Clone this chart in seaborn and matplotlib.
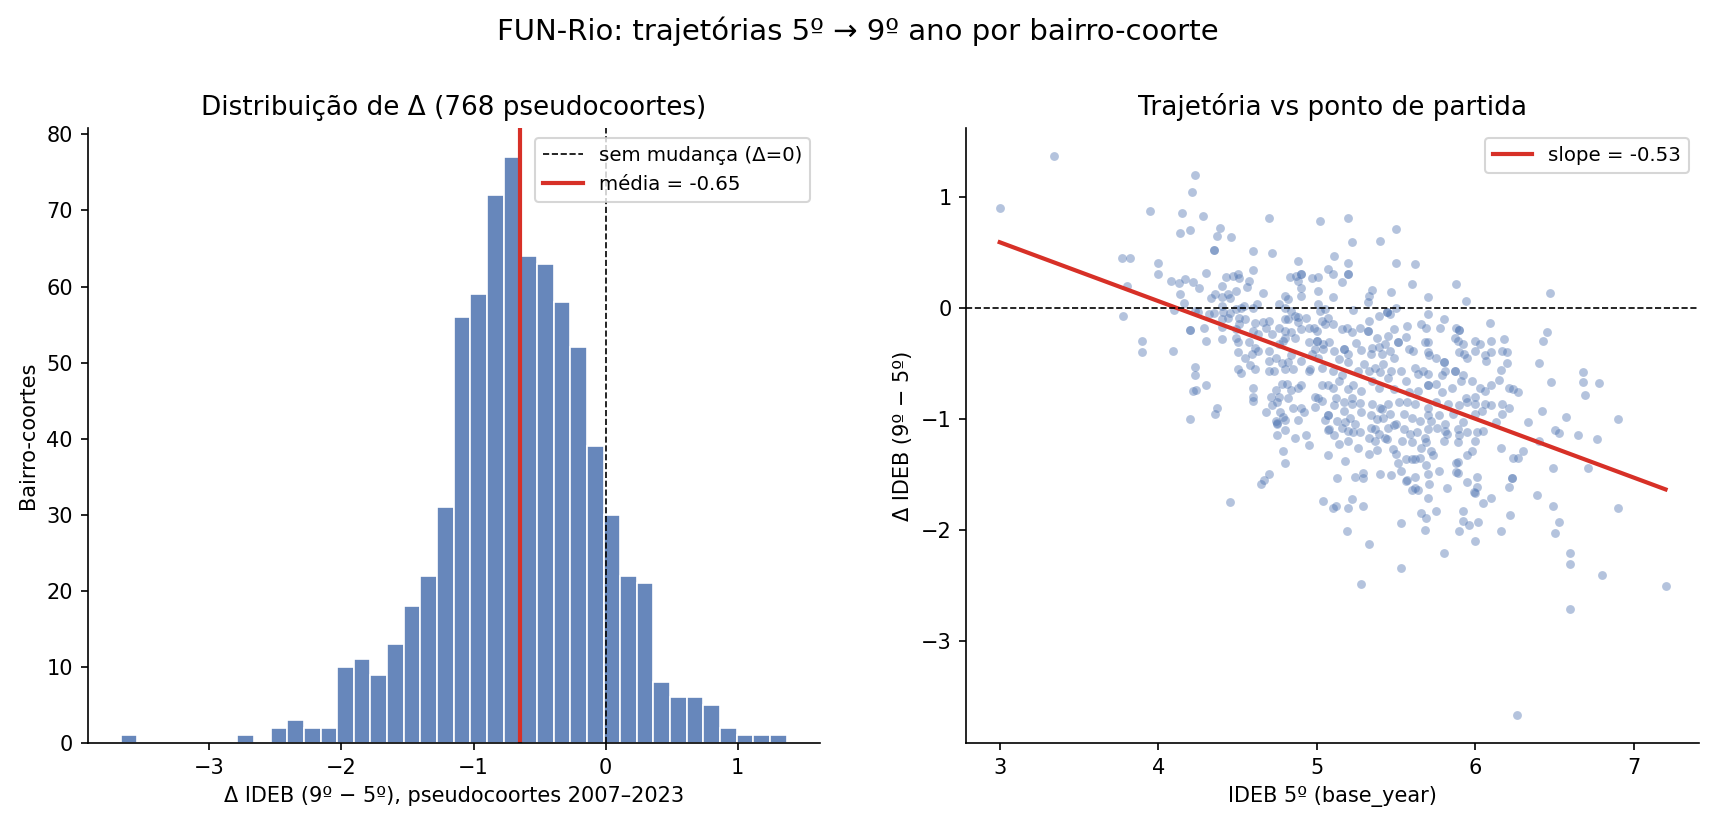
import numpy as np
import pandas as pd
import matplotlib
matplotlib.use("Agg")
import matplotlib.pyplot as plt
import seaborn as sns

BLUE = "#4C72B0"
RED = "#d73027"

# Histogram of delta: 40 equal bins between hist_lo and hist_hi
hist_lo, hist_hi = -3.67, 1.37
hist_counts = [1, 0, 0, 0, 0, 0, 0, 1, 0, 2,
               3, 2, 2, 10, 11, 9, 13, 18, 22, 31,
               56, 59, 72, 77, 64, 63, 58, 52, 39, 30,
               22, 21, 8, 6, 6, 5, 2, 1, 1, 1]
delta_mean = -0.65

# regression line
slope, intercept = -0.53, 2.18

# scatter points (IDEB 5º, delta), read region by region
pts_low_x = [
    (3.00, 0.90), (3.34, 1.37), (3.77, 0.45), (3.82, 0.45), (3.80, 0.20), (3.78, -0.07),
    (4.23, 1.20), (4.21, 1.04), (3.95, 0.87), (4.15, 0.85), (4.28, 0.83), (4.70, 0.81),
    (5.02, 0.78), (4.39, 0.72), (4.20, 0.70), (4.14, 0.67), (4.37, 0.65), (4.46, 0.64),
    (4.35, 0.52), (4.35, 0.52), (4.60, 0.51), (4.72, 0.49), (4.00, 0.40), (4.88, 0.42),
    (4.00, 0.30), (4.60, 0.34), (4.30, 0.31), (4.08, 0.24), (4.13, 0.22), (4.17, 0.26),
    (4.22, 0.23), (4.26, 0.18), (4.40, 0.20), (4.43, 0.28), (4.47, 0.29), (4.50, 0.30),
    (4.51, 0.27), (4.57, 0.24), (4.56, 0.19), (4.83, 0.28), (4.87, 0.29), (4.90, 0.30),
    (4.90, 0.30), (4.88, 0.24), (4.90, 0.18), (4.90, 0.11), (4.97, 0.27), (5.01, 0.28),
    (5.01, 0.15), (4.66, 0.13), (4.14, 0.12), (4.16, 0.04), (4.33, 0.09), (4.36, 0.12),
    (4.40, 0.10), (4.44, 0.12), (4.45, 0.09), (4.49, 0.15), (4.80, 0.11), (4.82, 0.08),
    (4.10, -0.02), (4.23, -0.03), (4.25, -0.04), (4.32, -0.06), (4.35, -0.05), (4.40, 0.02),
    (4.41, -0.04), (4.45, -0.05), (4.49, -0.01), (4.52, 0.00), (4.54, 0.02), (4.62, 0.03),
    (4.60, 0.00), (4.76, 0.03), (4.80, 0.00), (4.84, -0.03), (4.86, -0.07), (4.88, -0.08),
    (4.93, -0.09), (5.01, 0.03), (5.02, -0.03), (5.05, -0.01),
    (4.40, -0.10), (4.44, -0.09), (4.51, -0.09), (4.55, -0.10), (4.51, -0.15), (4.61, -0.14),
    (4.66, -0.13), (4.70, -0.12), (4.68, -0.18), (4.76, -0.18), (4.80, -0.10), (4.82, -0.10),
    (4.88, -0.13), (4.90, -0.19), (4.95, -0.18), (4.98, -0.18), (5.00, -0.21), (5.03, -0.12),
    (5.05, -0.15), (4.20, -0.20), (4.20, -0.20), (4.29, -0.18), (4.40, -0.17), (4.49, -0.19),
    (4.60, -0.21), (4.63, -0.24), (4.72, -0.24), (4.80, -0.21), (4.84, -0.22), (4.86, -0.27),
    (3.90, -0.30), (4.30, -0.30), (4.40, -0.28), (4.49, -0.27), (4.50, -0.31), (4.57, -0.31),
    (4.61, -0.36), (4.63, -0.39), (4.70, -0.39), (4.76, -0.33), (4.79, -0.30), (4.80, -0.27),
    (4.95, -0.31), (4.99, -0.37), (5.00, -0.30), (5.00, -0.30), (5.04, -0.33), (5.04, -0.37),
    (3.90, -0.40), (4.09, -0.39), (4.50, -0.40), (4.55, -0.45), (4.59, -0.42), (4.70, -0.48),
    (4.74, -0.45), (4.78, -0.50), (4.82, -0.49), (4.84, -0.43), (4.90, -0.48), (4.96, -0.55),
    (4.97, -0.42), (5.01, -0.45), (5.03, -0.54), (4.23, -0.53), (4.50, -0.55), (4.52, -0.59),
    (4.58, -0.52), (4.61, -0.55), (4.70, -0.57), (4.73, -0.57), (4.80, -0.55), (4.85, -0.55),
    (4.95, -0.57), (4.23, -0.61), (4.30, -0.70), (4.24, -0.74), (4.22, -0.75), (4.60, -0.72),
    (4.60, -0.80), (4.74, -0.74), (4.78, -0.69), (4.81, -0.69), (4.84, -0.74), (4.88, -0.72),
    (4.90, -0.70), (4.71, -0.80), (4.76, -0.80), (4.82, -0.81), (4.99, -0.80), (5.01, -0.81),
    (5.03, -0.70), (5.07, -0.70),
    (4.20, -1.00), (4.36, -0.96), (4.37, -0.90), (4.60, -0.84), (4.68, -0.94), (4.72, -0.88),
    (4.75, -0.85), (4.77, -0.94), (4.79, -0.98), (4.80, -1.01), (4.74, -1.02), (4.75, -1.05),
    (4.75, -1.04), (4.80, -1.10), (4.75, -1.15), (4.85, -0.90), (4.90, -0.90), (4.92, -0.94),
    (4.88, -1.01), (4.86, -1.17), (4.93, -1.15), (4.95, -1.24), (4.99, -0.89), (5.03, -0.84),
    (5.05, -1.01), (5.07, -0.97), (5.07, -1.10), (5.07, -1.33), (4.79, -1.29), (4.80, -1.40),
    (4.70, -1.50), (4.67, -1.55), (4.65, -1.59), (4.45, -1.75), (5.04, -1.74),
]

pts_mid_upper = [
    (5.20, 0.81), (5.50, 0.71), (5.22, 0.59), (5.40, 0.60), (5.11, 0.47), (5.20, 0.40),
    (5.50, 0.40), (5.62, 0.39), (5.07, 0.35), (5.10, 0.30), (5.20, 0.30), (5.20, 0.30),
    (5.16, 0.23), (5.60, 0.21), (5.88, 0.21), (5.35, 0.16), (5.33, 0.11), (5.47, 0.14),
    (5.10, 0.10), (5.70, 0.10), (5.94, 0.06), (5.32, 0.05), (5.23, -0.02), (5.50, 0.00),
    (5.44, -0.04), (5.44, -0.04), (5.46, -0.06), (5.39, -0.07), (5.70, -0.06), (5.80, -0.10),
    (5.33, -0.12), (5.10, -0.15), (5.07, -0.09), (5.16, -0.19), (5.19, -0.18), (5.27, -0.18),
    (5.32, -0.21), (5.32, -0.21), (5.22, -0.22), (5.57, -0.16), (5.66, -0.15), (5.69, -0.18),
    (5.78, -0.18), (5.88, -0.18), (5.90, -0.20), (5.90, -0.20), (6.09, -0.14), (6.18, -0.28),
    (6.10, -0.30), (6.00, -0.30), (6.03, -0.33), (5.87, -0.27), (5.92, -0.33), (5.89, -0.30),
    (5.49, -0.19), (5.45, -0.25), (5.38, -0.27), (5.56, -0.26), (5.51, -0.31), (5.51, -0.31),
    (5.68, -0.31), (5.70, -0.31), (5.58, -0.37), (5.25, -0.32), (5.11, -0.39), (5.17, -0.37),
    (5.17, -0.37), (5.20, -0.42), (5.28, -0.38), (5.35, -0.36), (5.39, -0.35), (5.43, -0.33),
    (5.34, -0.42), (5.41, -0.42), (5.46, -0.39), (5.49, -0.45), (5.61, -0.39), (5.70, -0.40),
    (5.71, -0.43), (5.75, -0.45), (5.80, -0.49), (5.80, -0.49), (5.90, -0.40), (5.93, -0.42),
    (5.95, -0.45), (6.00, -0.39), (6.06, -0.43), (6.07, -0.48), (6.10, -0.40), (6.17, -0.39),
    (6.20, -0.40), (6.20, -0.50), (6.16, -0.56), (5.08, -0.31), (5.14, -0.46), (5.20, -0.49),
    (5.10, -0.57), (5.16, -0.61), (5.14, -0.66), (5.10, -0.72), (5.20, -0.73), (5.26, -0.57),
    (5.30, -0.51), (5.33, -0.57), (5.37, -0.54), (5.40, -0.58), (5.45, -0.63), (5.42, -0.51),
    (5.47, -0.57), (5.53, -0.57), (5.56, -0.66), (5.62, -0.54), (5.64, -0.60), (5.67, -0.57),
    (5.70, -0.60), (5.70, -0.70), (5.70, -0.70), (5.75, -0.69), (5.79, -0.61), (5.81, -0.57),
    (5.87, -0.57), (5.87, -0.57), (5.92, -0.61), (5.91, -0.66), (5.85, -0.72), (5.98, -0.66),
    (6.03, -0.72), (6.06, -0.75), (6.10, -0.70), (6.15, -0.65), (6.21, -0.72), (6.24, -0.73),
    (5.23, -0.70), (5.35, -0.66), (5.28, -0.75), (5.39, -0.72), (5.49, -0.73), (5.58, -0.76),
    (5.64, -0.75), (5.79, -0.76), (5.94, -0.81), (6.00, -0.80), (5.12, -0.81), (5.22, -0.81),
]

pts_mid_lower = [
    (5.11, -0.88), (5.17, -0.85), (5.22, -0.87), (5.27, -0.86), (5.35, -0.87), (5.40, -0.90),
    (5.45, -0.87), (5.52, -0.85), (5.57, -0.85), (5.62, -0.87), (5.70, -0.90), (5.75, -0.85),
    (5.83, -0.87), (5.90, -0.88), (5.95, -0.85), (6.00, -0.87), (6.06, -0.87), (6.10, -0.88),
    (6.17, -0.87), (6.21, -0.90),
    (5.07, -0.97), (5.13, -1.02), (5.17, -0.93), (5.18, -1.03), (5.21, -0.99), (5.24, -1.05),
    (5.28, -0.94), (5.34, -0.97), (5.38, -1.00), (5.41, -0.91), (5.42, -0.99), (5.46, -0.96),
    (5.50, -1.05), (5.55, -0.96), (5.60, -0.99), (5.65, -1.02), (5.70, -0.97), (5.72, -1.02),
    (5.77, -0.97), (5.81, -1.05), (5.86, -0.96), (5.92, -1.03), (6.00, -0.96), (6.04, -0.93),
    (6.13, -1.03), (6.17, -0.96),
    (5.08, -1.09), (5.11, -1.15), (5.16, -1.08), (5.20, -1.11), (5.23, -1.12), (5.27, -1.12),
    (5.34, -1.08), (5.37, -1.09), (5.39, -1.14), (5.43, -1.17), (5.45, -1.08), (5.49, -1.06),
    (5.55, -1.09), (5.59, -1.14), (5.63, -1.12), (5.68, -1.17), (5.70, -1.09), (5.76, -1.08),
    (5.81, -1.11), (5.82, -1.14), (5.89, -1.09), (5.90, -1.15), (5.95, -1.12), (6.01, -1.12),
    (6.05, -1.11),
    (5.14, -1.23), (5.20, -1.20), (5.26, -1.26), (5.33, -1.17), (5.37, -1.20), (5.44, -1.18),
    (5.48, -1.27), (5.54, -1.20), (5.60, -1.21), (5.66, -1.26), (5.69, -1.21), (5.72, -1.29),
    (5.80, -1.20), (5.89, -1.21), (5.95, -1.33), (5.98, -1.29), (6.00, -1.20), (6.16, -1.26),
    (5.18, -1.38), (5.33, -1.32), (5.38, -1.28), (5.50, -1.32), (5.51, -1.40), (5.56, -1.36),
    (5.60, -1.36), (5.62, -1.36), (5.65, -1.35), (5.69, -1.42), (5.73, -1.33), (5.88, -1.40),
    (5.89, -1.39), (6.24, -1.35),
    (5.13, -1.53), (5.24, -1.52), (5.29, -1.49), (5.29, -1.53), (5.40, -1.50), (5.47, -1.51),
    (5.53, -1.47), (5.56, -1.56), (5.57, -1.55), (5.62, -1.52), (5.60, -1.64), (5.62, -1.62),
    (5.64, -1.64), (5.70, -1.50), (5.71, -1.59), (5.70, -1.71), (5.77, -1.47), (5.82, -1.62),
    (5.88, -1.48), (5.89, -1.49), (5.95, -1.57), (6.01, -1.52), (6.01, -1.61), (5.99, -1.66),
    (6.00, -1.67), (6.10, -1.71), (6.05, -1.76), (6.21, -1.61), (6.23, -1.53), (6.23, -1.53),
    (6.22, -1.87), (6.16, -2.01), (5.22, -1.72), (5.10, -1.80), (5.12, -1.79), (5.20, -1.80),
    (5.29, -1.79), (5.19, -2.01), (5.33, -2.13), (5.53, -1.94), (5.53, -2.34), (5.28, -2.49),
    (5.66, -1.85), (5.69, -1.89), (5.75, -1.83), (5.68, -2.00), (5.80, -2.21), (5.92, -1.83),
    (5.92, -1.92), (5.96, -1.96), (5.90, -2.01), (6.02, -1.93), (6.00, -2.10), (6.26, -3.67),
]

pts_high_x = [
    (6.47, 0.13), (6.45, -0.22), (6.43, -0.30), (6.40, -0.50), (6.68, -0.58), (6.48, -0.67),
    (6.68, -0.67), (6.78, -0.68), (6.69, -0.79), (6.27, -0.76), (6.42, -0.93), (6.57, -0.98),
    (6.33, -1.03), (6.90, -1.00), (6.50, -1.10), (6.53, -1.13), (6.65, -1.15), (6.77, -1.18),
    (6.40, -1.20), (6.30, -1.29), (6.27, -1.35), (6.49, -1.44), (6.71, -1.44), (6.39, -1.69),
    (6.49, -1.79), (6.90, -1.80), (6.53, -1.93), (6.50, -2.03), (6.60, -2.21), (6.60, -2.31),
    (6.80, -2.41), (7.20, -2.51), (6.60, -2.71),
]

df = pd.DataFrame(pts_low_x + pts_mid_upper + pts_mid_lower + pts_high_x,
                  columns=["ideb5", "delta"])

# one row per bin (bin centre + count)
bin_w = (hist_hi - hist_lo) / len(hist_counts)
hist_df = pd.DataFrame({
    "delta": [hist_lo + bin_w * (i + 0.5) for i in range(len(hist_counts))],
    "n": hist_counts,
})

fig, (ax1, ax2) = plt.subplots(1, 2, figsize=(11.44, 5.5), dpi=150)
fig.subplots_adjust(left=0.051, right=0.99, bottom=0.0994, top=0.845, wspace=0.2)

# Left: distribution of delta
sns.histplot(data=hist_df, x="delta", weights="n", bins=len(hist_counts),
             binrange=(hist_lo, hist_hi), color=BLUE, alpha=0.85,
             edgecolor="white", linewidth=0.8, ax=ax1)
ax1.axvline(0, color="black", ls="--", lw=0.8, label="sem mudança (Δ=0)")
ax1.axvline(delta_mean, color=RED, lw=2, label=f"média = {delta_mean:.2f}")
ax1.set_title("Distribuição de Δ (768 pseudocoortes)", fontsize=12.6)
ax1.set_xlabel("Δ IDEB (9º − 5º), pseudocoortes 2007–2023")
ax1.set_ylabel("Bairro-coortes")
ax1.legend(loc="upper right", fontsize=9.5)

# Right: delta vs starting point
sns.scatterplot(data=df, x="ideb5", y="delta", color=BLUE, s=18, alpha=0.42,
                linewidth=0, ax=ax2)
xs = np.array([df["ideb5"].min(), df["ideb5"].max()])
ax2.plot(xs, intercept + slope * xs, color=RED, lw=2, label=f"slope = {slope:.2f}")
ax2.axhline(0, color="black", ls="--", lw=0.8)
ax2.set_title("Trajetória vs ponto de partida", fontsize=12.6)
ax2.set_xlabel("IDEB 5º (base_year)")
ax2.set_ylabel("Δ IDEB (9º − 5º)")
ax2.set_ylim(-3.92, 1.62)
ax2.legend(loc="upper right", fontsize=9.5)

sns.despine(fig=fig)
fig.suptitle("FUN-Rio: trajetórias 5º → 9º ano por bairro-coorte", fontsize=14, y=0.98)

fig.savefig("out.png", dpi=150)
